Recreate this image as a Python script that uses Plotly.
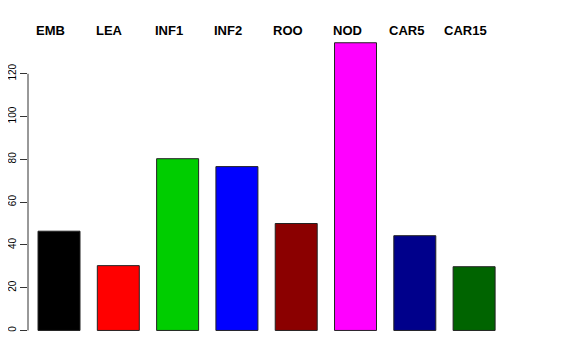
import plotly.graph_objects as go

categories = ["EMB", "LEA", "INF1", "INF2", "ROO", "NOD", "CAR5", "CAR15"]
values = [46.4, 30.3, 80.3, 76.6, 50.0, 134.5, 44.3, 29.8]
colors = ["#000000", "#FF0000", "#00CD00", "#0000FF", "#8B0000", "#FF00FF", "#00008B", "#006400"]
y_ticks = [0, 20, 40, 60, 80, 100, 120]

xpos = list(range(len(categories)))

fig = go.Figure()
fig.add_trace(go.Bar(
    x=xpos, y=values, width=0.708,
    marker=dict(color=colors, line=dict(color="#222222", width=1)),
    hoverinfo="skip",
))

for i, c in enumerate(categories):
    fig.add_annotation(x=xpos[i], y=1.0, xref="x", yref="paper", text="<b>%s</b>" % c,
                       showarrow=False, xshift=-8.5, yshift=1, yanchor="middle",
                       font=dict(family="Liberation Sans, Arial, sans-serif", size=13, color="black"))

# R-style axis line spanning only the tick range
fig.add_shape(type="line", xref="paper", yref="y", x0=0, x1=0, y0=y_ticks[0], y1=y_ticks[-1],
              line=dict(color="#333333", width=1))

fig.update_layout(
    width=568, height=352, autosize=False,
    margin=dict(l=20, r=28, t=23, b=17.5),
    paper_bgcolor="white", plot_bgcolor="white",
    showlegend=False,
    font=dict(family="Liberation Sans, Arial, sans-serif", color="black"),
    xaxis=dict(range=[-0.523, 8.246], showticklabels=False, showgrid=False, automargin=False,
               zeroline=False, showline=False, ticks=""),
    yaxis=dict(range=[-5.4, 140.0], tickvals=y_ticks, ticktext=[str(v) for v in y_ticks],
               tickangle=-90, ticks="outside", ticklen=7, tickcolor="#333333", tickwidth=1,
               showgrid=False, zeroline=False, showline=False, automargin=False,
               tickfont=dict(size=10, color="black")),
)

fig.write_html("out.html")
